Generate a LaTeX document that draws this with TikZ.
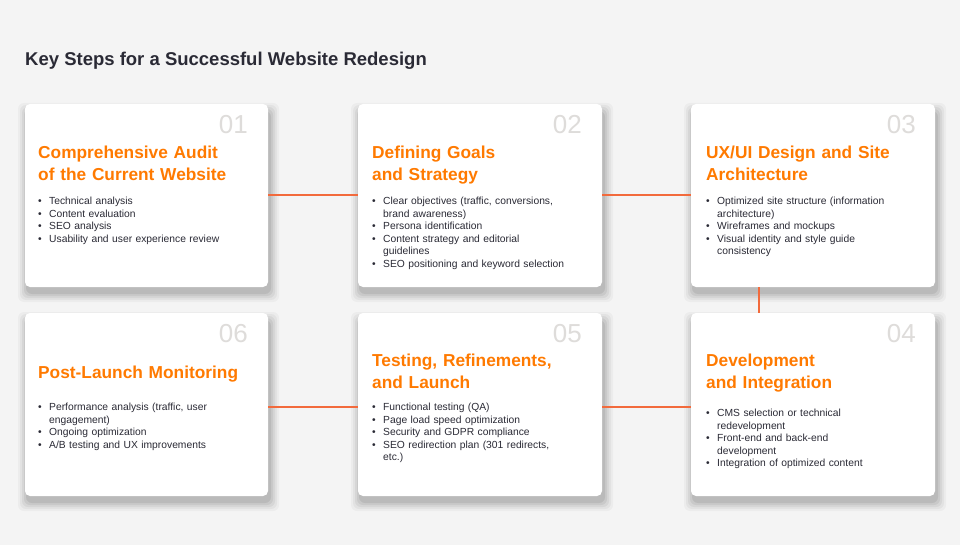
\documentclass[tikz,border=0pt]{standalone}
\usepackage{fontspec}
\setmainfont{Liberation Sans}
\usetikzlibrary{calc}
\definecolor{bg}{HTML}{F4F4F4}
\definecolor{org}{HTML}{FF7A00}
\definecolor{lin}{HTML}{F26A3C}
\definecolor{txt}{HTML}{2A2A35}
\definecolor{num}{HTML}{DEDCDA}
\newcommand{\bl}[1]{\hyphenpenalty=10000\hangindent=11pt\hangafter=1\noindent\makebox[11pt][l]{\textbullet}#1\par}
\newcommand{\mycard}[3]{%
 \foreach \s/\o in {9/0.03,7/0.04,5/0.05,3/0.06,1/0.07}{
  \fill[black,opacity=\o,rounded corners=6pt] ($(#1)+(-\s+2,-\s+8)$) rectangle ($(#2)+(\s+2,\s+6)$);}
 \path[fill=white,rounded corners=5pt] (#1) rectangle (#2) node[pos=0,inner sep=0pt] (#3) {};}
\tikzset{
 head/.style={anchor=north west,inner sep=0pt,text width=225pt,font=\fontsize{17.3}{21.5}\selectfont\bfseries,text=org,align=left},
 body/.style={anchor=north west,inner sep=0pt,text width=200pt,font=\fontsize{10.3}{12.5}\selectfont,text=txt,align=left},
 numb/.style={anchor=north east,inner sep=0pt,font=\fontsize{26}{26}\selectfont,text=num},
 conn/.style={draw=lin,line width=1.3pt}
}
\begin{document}
\begin{tikzpicture}[x=1pt,y=-1pt]
\fill[bg] (0,0) rectangle (960,545);
\useasboundingbox (0,0) rectangle (960,545);
\node[anchor=west,inner sep=0pt,font=\fontsize{18.5}{20}\selectfont\bfseries,text=txt] (title) at (25,61) {Key Steps for a Successful Website Redesign};
\coordinate (c1) at (268,195); \coordinate (c2) at (358,195);
\coordinate (c3) at (602,195); \coordinate (c4) at (691,195);
\coordinate (c5) at (759,287); \coordinate (c6) at (759,313);
\coordinate (c7) at (268,407); \coordinate (c8) at (358,407);
\coordinate (c9) at (602,407); \coordinate (c10) at (691,407);
\mycard{25,104}{268,287}{k1}
\mycard{358,104}{602,287}{k2}
\mycard{691,104}{935,287}{k3}
\mycard{25,313}{268,496}{k6}
\mycard{358,313}{602,496}{k5}
\mycard{691,313}{935,496}{k4}
\draw[conn] (c1) -- (c2); \draw[conn] (c3) -- (c4); \draw[conn] (c5) -- (c6);
\draw[conn] (c7) -- (c8); \draw[conn] (c9) -- (c10);
\node[numb] (n1) at (248,115) {01};
\node[numb] (n2) at (582,115) {02};
\node[numb] (n3) at (916,115) {03};
\node[numb] (n6) at (248,324) {06};
\node[numb] (n5) at (582,324) {05};
\node[numb] (n4) at (916,324) {04};
\node[head] (h1) at (38,146) {Comprehensive Audit\\of the Current Website};
\node[head] (h2) at (372,146) {Defining Goals\\and Strategy};
\node[head] (h3) at (706,146) {UX/UI Design and Site\\Architecture};
\node[head] (h6) at (38,366) {Post-Launch Monitoring};
\node[head] (h5) at (372,354) {Testing, Refinements,\\and Launch};
\node[head] (h4) at (706,354) {Development\\and Integration};
\node[body] (b1) at (38,197) {\bl{Technical analysis}\bl{Content evaluation}\bl{SEO analysis}\bl{Usability and user experience review}};
\node[body,text width=195pt] (b2) at (372,197) {\bl{Clear objectives (traffic, conversions, brand awareness)}\bl{Persona identification}\bl{Content strategy and editorial guidelines}\bl{SEO positioning and keyword selection}};
\node[body] (b3) at (706,197) {\bl{Optimized site structure (information architecture)}\bl{Wireframes and mockups}\bl{Visual identity and style guide consistency}};
\node[body] (b6) at (38,403) {\bl{Performance analysis (traffic, user engagement)}\bl{Ongoing optimization}\bl{A/B testing and UX improvements}};
\node[body] (b5) at (372,403) {\bl{Functional testing (QA)}\bl{Page load speed optimization}\bl{Security and GDPR compliance}\bl{SEO redirection plan (301 redirects, etc.)}};
\node[body,text width=170pt] (b4) at (706,409) {\bl{CMS selection or technical redevelopment}\bl{Front-end and back-end development}\bl{Integration of optimized content}};
\end{tikzpicture}
\end{document}
